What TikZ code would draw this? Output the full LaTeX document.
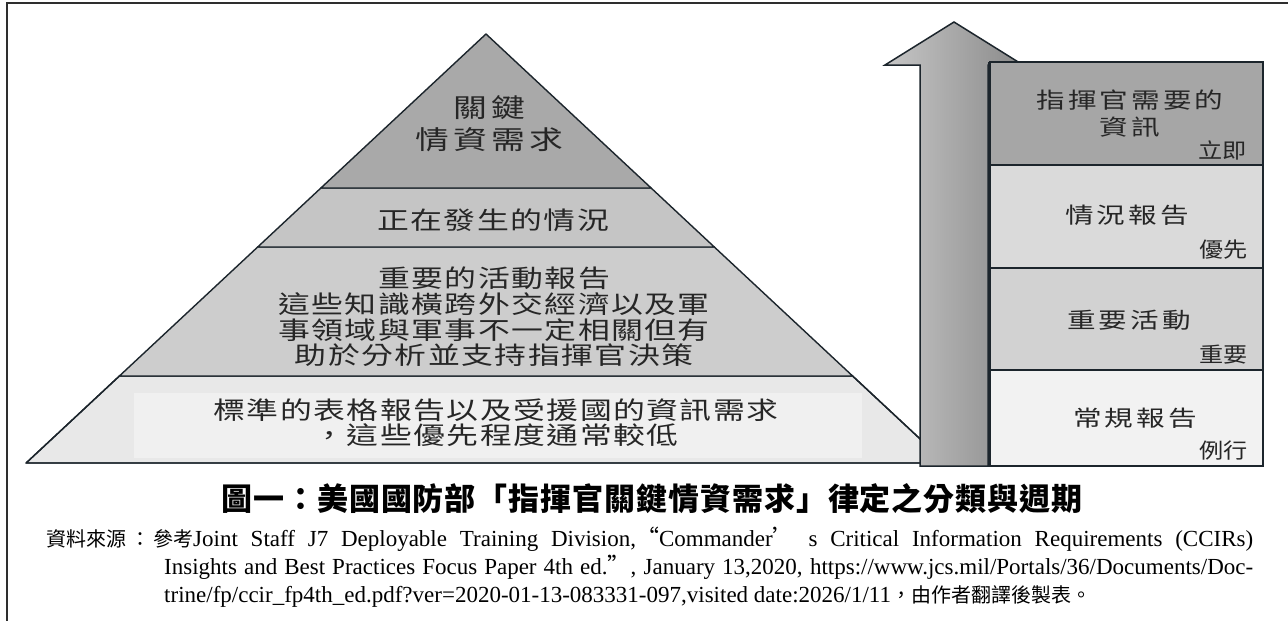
\documentclass[tikz,border=0pt]{standalone}
\usepackage{fontspec}
\setmainfont{Liberation Serif}
\newfontfamily\cjk{Noto Sans CJK TC}
\newfontfamily\cjkw{Noto Sans CJK TC}[FakeStretch=1.3]
\newfontfamily\cjks{Noto Sans CJK TC}[FakeStretch=1.15]
\definecolor{framec}{HTML}{2E2E2E}
\definecolor{edgec}{HTML}{1C252C}
\definecolor{lyrA}{HTML}{A9A9A9}
\definecolor{lyrB}{HTML}{C5C5C5}
\definecolor{lyrC}{HTML}{CDCDCD}
\definecolor{lyrD}{HTML}{E8E8E8}
\definecolor{lyrDin}{HTML}{F0F0F0}
\definecolor{boxA}{HTML}{A6A6A6}
\definecolor{boxB}{HTML}{DADADA}
\definecolor{boxC}{HTML}{D2D2D2}
\definecolor{boxD}{HTML}{F2F2F2}
\definecolor{arrL}{HTML}{C6C6C6}
\definecolor{arrR}{HTML}{8A8A8A}
\definecolor{txt}{HTML}{262626}
\begin{document}
\begin{tikzpicture}[x=1pt,y=-1pt,
  layer/.style={draw=edgec, line width=1.4pt, line join=round},
  boxpart/.style={draw=edgec, line width=1.2pt},
  pyrtxt/.style={inner sep=0pt, text=txt, align=center,
    font=\cjkw\fontsize{24.5}{25.7}\selectfont\addfontfeatures{LetterSpace=6}},
  toptxt/.style={inner sep=0pt, text=txt, align=center,
    font=\cjkw\fontsize{26}{32}\selectfont\addfontfeatures{LetterSpace=16}},
  boxtxt/.style={inner sep=0pt, text=txt, align=center,
    font=\cjkw\fontsize{22}{27}\selectfont\addfontfeatures{LetterSpace=14}},
  smalltxt/.style={inner sep=0pt, text=txt, anchor=east,
    font=\cjks\fontsize{21}{24}\selectfont},
  srctxt/.style={inner sep=0pt, anchor=base west, text=black,
    font=\fontsize{23}{28}\selectfont}
]
\useasboundingbox (0,0) rectangle (1288,621);
\fill[white] (0,0) rectangle (1288,621);
% frame
\draw[framec, line width=2.2pt] (7,621) -- (7,3) -- (1288,3);
% pyramid layers
\path[layer, fill=lyrD] (119.4,376) -- (852.6,376) -- (945.9,463) -- (26.1,463) -- cycle;
\fill[lyrDin] (134,393) rectangle (862,458);
\draw[layer] (119.4,376) -- (852.6,376) -- (945.9,463) -- (26.1,463) -- cycle;
\path[layer, fill=lyrC] (257.7,247) -- (714.3,247) -- (852.6,376) -- (119.4,376) -- cycle;
\path[layer, fill=lyrB] (320.9,188) -- (651.1,188) -- (714.3,247) -- (257.7,247) -- cycle;
\path[layer, fill=lyrA] (486,34) -- (651.1,188) -- (320.9,188) -- cycle;
% arrow
\path[draw=edgec, line width=1.5pt, line join=miter, left color=arrL, right color=arrR]
  (954,22) -- (1023,65) -- (988,65) -- (988,466) -- (920,466) -- (920,65) -- (885,65) -- cycle;
% boxes
\path[boxpart, fill=boxA] (990,62) rectangle (1263,165);
\path[boxpart, fill=boxB] (990,165) rectangle (1263,268);
\path[boxpart, fill=boxC] (990,268) rectangle (1263,370);
\path[boxpart, fill=boxD] (990,370) rectangle (1263,466);
\draw[edgec, line width=3pt] (989.5,62) -- (989.5,466);
% pyramid texts
\node[toptxt] (p1) at (489,124) {關鍵\\情資需求};
\node[pyrtxt] (p2) at (493,220) {正在發生的情況};
\node[pyrtxt] (p3) at (494,317) {重要的活動報告\\這些知識橫跨外交經濟以及軍\\事領域與軍事不一定相關但有\\助於分析並支持指揮官決策};
\node[pyrtxt, font=\cjkw\fontsize{24.5}{25}\selectfont\addfontfeatures{LetterSpace=6}] (p4) at (496,423) {標準的表格報告以及受援國的資訊需求\\，這些優先程度通常較低};
% box texts
\node[boxtxt] (b1) at (1130,113.5) {指揮官需要的\\資訊};
\node[boxtxt] (b2) at (1127,215) {情況報告};
\node[boxtxt] (b3) at (1129,320) {重要活動};
\node[boxtxt] (b4) at (1135,418) {常規報告};
\node[smalltxt] (s1) at (1247,150) {立即};
\node[smalltxt] (s2) at (1248,250) {優先};
\node[smalltxt] (s3) at (1248,355) {重要};
\node[smalltxt] (s4) at (1248,451) {例行};
% title
\node[inner sep=0pt, text=black, font=\cjk\bfseries\fontsize{31}{34}\selectfont\addfontfeatures{LetterSpace=3}] (title) at (652,499) {圖一：美國國防部「指揮官關鍵情資需求」律定之分類與週期};
% source
\node[srctxt] (src1) at (46,546) {\hbox to 1207pt{{\cjk\fontsize{20}{28}\selectfont 資料來源\hspace{4pt}：\hspace{3pt}參考}Joint Staff J7 Deployable Training Division,{\cjk “}Commander{\cjk ’} s Critical Information Requirements (CCIRs)}};
\node[srctxt] (src2) at (164,574) {\hbox to 1089pt{Insights and Best Practices Focus Paper 4th ed.{\cjk ”}, January 13,2020, https://www.jcs.mil/Portals/36/Documents/Doc-}};
\node[srctxt] (src3) at (164,602) {trine/fp/ccir\_fp4th\_ed.pdf?ver=2020-01-13-083331-097,visited date:2026/1/11{\cjk\fontsize{20}{28}\selectfont ，由作者翻譯後製表。}};
\end{tikzpicture}
\end{document}
